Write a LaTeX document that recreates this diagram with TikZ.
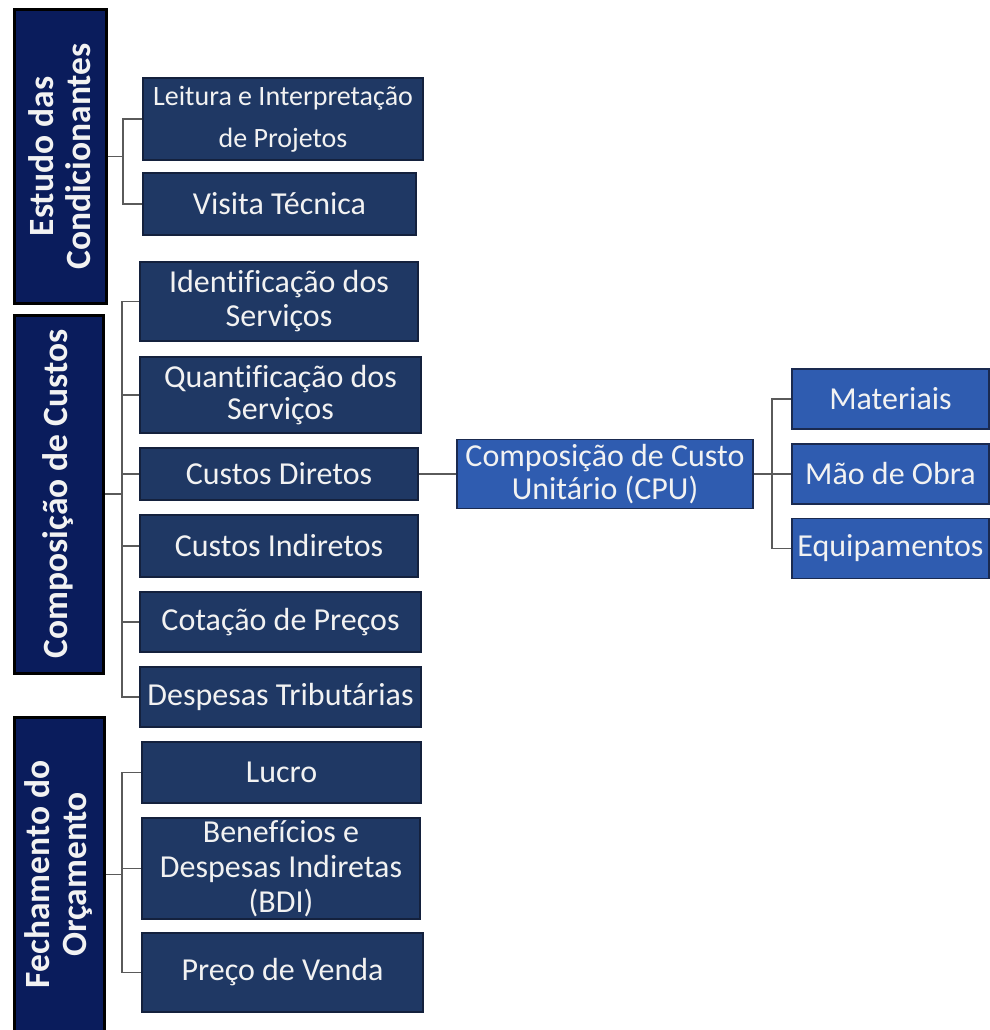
\documentclass[tikz,border=0pt]{standalone}
\usepackage{fontspec}
\setmainfont{Carlito}[Ligatures=NoCommon]
\definecolor{leftnavy}{HTML}{0A1C5C}
\definecolor{rnavy}{HTML}{1F3864}
\definecolor{rborder}{HTML}{14213D}
\definecolor{cblue}{HTML}{2F5CB0}
\definecolor{cborder}{HTML}{1A2A50}
\definecolor{txt}{HTML}{F2F2F2}
\definecolor{conn}{HTML}{5A5A5A}
\begin{document}
\begin{tikzpicture}[x=1pt,y=-1pt,
  leftbox/.style={draw=black, line width=3pt, fill=leftnavy, text=txt, rotate=90,
    font=\bfseries\fontsize{35.5}{37}\selectfont, align=center, inner sep=0pt},
  rightbox/.style={draw=rborder, line width=1.5pt, fill=rnavy, text=txt,
    font=\fontsize{32}{34}\selectfont, align=center, inner sep=0pt},
  bluebox/.style={draw=cborder, line width=1.5pt, fill=cblue, text=txt,
    font=\fontsize{32}{33}\selectfont, align=center, inner sep=0pt},
  link/.style={draw=conn, line width=1.3pt}]
\useasboundingbox[fill=white] (0,0) rectangle (989,1030);

% left category boxes
\node[leftbox, minimum width=293pt, minimum height=92pt] (b1) at (60,156.5) {Estudo das\\Condicionantes};
\node[leftbox, minimum width=358pt, minimum height=89pt] (b2) at (58.5,494) {Composição de Custos};
\node[leftbox, minimum width=315pt, minimum height=90pt] (b3) at (59,874.5) {Fechamento do\\Orçamento};

% right column
\node[rightbox, minimum width=280pt, minimum height=82pt, font=\fontsize{28}{42}\selectfont] (lei) at (283,119) {Leitura e Interpretação\\de Projetos};
\node[rightbox, minimum width=273pt, minimum height=62pt] (vis) at (279.5,204) {Visita Técnica};
\node[rightbox, minimum width=278pt, minimum height=79pt] (ide) at (279,301.5) {Identificação dos\\Serviços};
\node[rightbox, minimum width=281pt, minimum height=76pt, font=\fontsize{32}{32}\selectfont] (qua) at (280.5,395) {Quantificação dos\\Serviços};
\node[rightbox, minimum width=278pt, minimum height=52pt] (cdi) at (279,474) {Custos Diretos};
\node[rightbox, minimum width=278pt, minimum height=62pt] (cin) at (279,546) {Custos Indiretos};
\node[rightbox, minimum width=281pt, minimum height=60pt] (cot) at (280.5,622) {Cotação de Preços};
\node[rightbox, minimum width=281pt, minimum height=60pt] (dtr) at (280.5,697) {Despesas Tributárias};
\node[rightbox, minimum width=279pt, minimum height=61pt] (luc) at (281.5,772.5) {Lucro};
\node[rightbox, minimum width=278pt, minimum height=101pt, font=\fontsize{32}{35}\selectfont] (bdi) at (281,868.5) {Benefícios e\\Despesas Indiretas\\(BDI)};
\node[rightbox, minimum width=281pt, minimum height=79pt] (pve) at (282.5,972.5) {Preço de Venda};

% CPU branch
\node[bluebox, minimum width=296pt, minimum height=69pt] (cpu) at (605,474) {Composição de Custo\\Unitário (CPU)};
\node[bluebox, minimum width=197pt, minimum height=60pt] (mat) at (890.5,399) {Materiais};
\node[bluebox, minimum width=197pt, minimum height=60pt] (mao) at (890.5,474) {Mão de Obra};
\node[bluebox, minimum width=197pt, minimum height=60pt] (equ) at (890.5,548.5) {Equipamentos};

% connectors
\coordinate (j1) at (123,156.5);
\coordinate (j2) at (122,494);
\coordinate (j3) at (122,874.5);
\coordinate (j4) at (772,474);

\draw[link] (b1.south) -- (j1);
\draw[link] (j1) |- (lei.west);
\draw[link] (j1) |- (vis.west);

\draw[link] (b2.south) -- (j2);
\foreach \n in {ide,qua,cdi,cin,cot,dtr} \draw[link] (j2) |- (\n.west);

\draw[link] (b3.south) -- (j3);
\foreach \n in {luc,bdi,pve} \draw[link] (j3) |- (\n.west);

\draw[link] (cdi.east) -- (cpu.west);
\draw[link] (cpu.east) -- (j4);
\foreach \n in {mat,mao,equ} \draw[link] (j4) |- (\n.west);
\end{tikzpicture}
\end{document}
